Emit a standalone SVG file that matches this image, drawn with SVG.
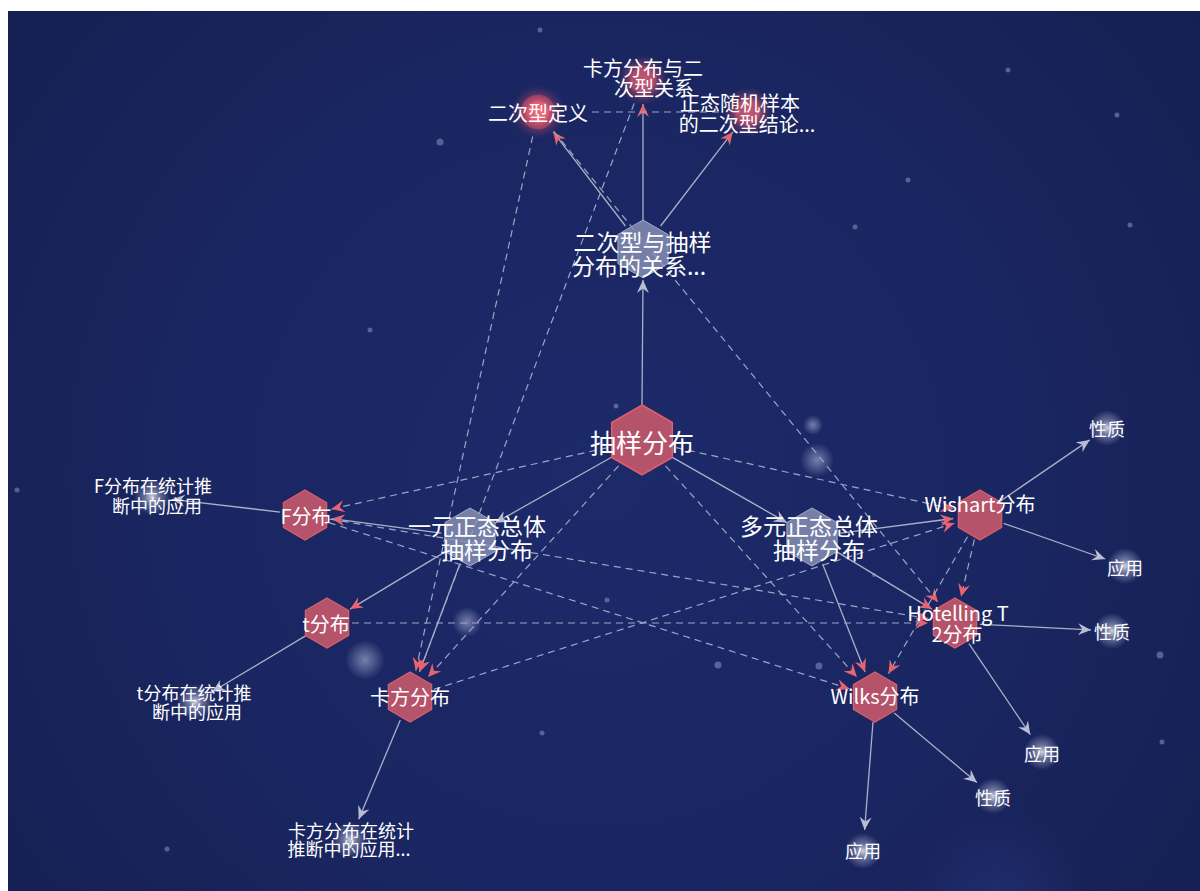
<svg xmlns="http://www.w3.org/2000/svg" width="1200" height="891" viewBox="0 0 1200 891">
<defs>
<style>
.t{fill:#ffffff;font-family:"Noto Sans CJK SC","Noto Sans",sans-serif;text-anchor:middle;dominant-baseline:central}
.s{stroke:#aab0c8;stroke-width:1.3;fill:none}
.d{stroke:#9ea5c6;stroke-width:1.2;fill:none;stroke-dasharray:7 5}
.hr{fill:#b5536b;stroke:#d9606f;stroke-width:1.2}
.hg{fill:#8d95b8;fill-opacity:0.8;stroke:#a3aac8;stroke-width:1}
.dot{fill:#8a93c0;fill-opacity:0.55}
</style>
<radialGradient id="bg" cx="600" cy="480" r="760" gradientUnits="userSpaceOnUse">
<stop offset="0" stop-color="#1d2a6a"/>
<stop offset="0.55" stop-color="#1a2661"/>
<stop offset="1" stop-color="#161f52"/>
</radialGradient>
<radialGradient id="leaf">
<stop offset="0" stop-color="#ffffff" stop-opacity="0.8"/>
<stop offset="0.4" stop-color="#c8cde6" stop-opacity="0.45"/>
<stop offset="1" stop-color="#c8cde6" stop-opacity="0"/>
</radialGradient>
<radialGradient id="glow">
<stop offset="0" stop-color="#c0c6e8" stop-opacity="0.55"/>
<stop offset="1" stop-color="#c0c6e8" stop-opacity="0"/>
</radialGradient>
<radialGradient id="rc">
<stop offset="0" stop-color="#f06a7a"/>
<stop offset="0.38" stop-color="#e05e72"/>
<stop offset="0.42" stop-color="#c4506c"/>
<stop offset="0.62" stop-color="#b04a68" stop-opacity="0.8"/>
<stop offset="0.66" stop-color="#8a3e66" stop-opacity="0.5"/>
<stop offset="1" stop-color="#6a3466" stop-opacity="0"/>
</radialGradient>
<radialGradient id="rc2">
<stop offset="0" stop-color="#c85a72"/>
<stop offset="0.45" stop-color="#b04e6c"/>
<stop offset="0.65" stop-color="#8a4068" stop-opacity="0.6"/>
<stop offset="1" stop-color="#6a3466" stop-opacity="0"/>
</radialGradient>
<radialGradient id="bottomglow" cx="1000" cy="900" r="90" gradientUnits="userSpaceOnUse">
<stop offset="0" stop-color="#3a4aa0" stop-opacity="0.25"/>
<stop offset="1" stop-color="#3a4aa0" stop-opacity="0"/>
</radialGradient>
<marker id="ar" viewBox="-13 -6.5 14 13" refX="0" refY="0" markerWidth="14" markerHeight="13" orient="auto" markerUnits="userSpaceOnUse">
<path d="M0,0 L-13,-6 L-8.5,0 L-13,6 Z" fill="#e8636f"/>
</marker>
<marker id="ag" viewBox="-13 -6.5 14 13" refX="0" refY="0" markerWidth="14" markerHeight="13" orient="auto" markerUnits="userSpaceOnUse">
<path d="M0,0 L-13,-6 L-8.5,0 L-13,6 Z" fill="#b9bed4"/>
</marker>
<polygon id="hexB" points="0,-35 30.31,-17.5 30.31,17.5 0,35 -30.31,17.5 -30.31,-17.5"/>
<polygon id="hexG" points="0,-29 25.11,-14.5 25.11,14.5 0,29 -25.11,14.5 -25.11,-14.5"/>
<polygon id="hexR" points="0,-25 21.65,-12.5 21.65,12.5 0,25 -21.65,12.5 -21.65,-12.5"/>
</defs>

<rect x="0" y="0" width="1200" height="891" fill="#ffffff"/>
<rect x="8" y="11" width="1192" height="880" fill="url(#bg)"/>
<rect x="900" y="800" width="200" height="91" fill="url(#bottomglow)"/>

<g id="stars">
<circle class="dot" cx="540" cy="30" r="2.5"/>
<circle class="dot" cx="1008" cy="70" r="2.5"/>
<circle class="dot" cx="1117" cy="115" r="2.5"/>
<circle class="dot" cx="440" cy="142" r="3.5"/>
<circle class="dot" cx="908" cy="180" r="2.5"/>
<circle class="dot" cx="1130" cy="225" r="2.5"/>
<circle class="dot" cx="855" cy="227" r="2.5"/>
<circle class="dot" cx="370" cy="330" r="2.5"/>
<circle class="dot" cx="17" cy="490" r="2.5"/>
<circle class="dot" cx="607" cy="600" r="2.5"/>
<circle class="dot" cx="718" cy="665" r="3.5"/>
<circle class="dot" cx="1160" cy="655" r="3.5"/>
<circle class="dot" cx="1162" cy="742" r="2.5"/>
<circle class="dot" cx="542" cy="733" r="2.5"/>
<circle class="dot" cx="167" cy="849" r="2.5"/>
<circle class="dot" cx="616" cy="406" r="2.5"/>
<circle class="dot" cx="819" cy="666" r="3.5"/>
<circle class="dot" cx="874" cy="575" r="2"/>
<circle cx="365" cy="660" r="20" fill="url(#glow)"/>
<circle cx="467" cy="622" r="15" fill="url(#glow)"/>
<circle cx="817" cy="460" r="17" fill="url(#glow)"/>
<circle cx="813" cy="425" r="10" fill="url(#glow)"/>
</g>

<g id="connectors">
<line class="s" x1="642" y1="405" x2="643" y2="280" marker-end="url(#ag)"/>
<line class="s" x1="643" y1="220" x2="643" y2="104" marker-end="url(#ar)"/>
<line class="s" x1="625.4" y1="226" x2="553.2" y2="131.9" marker-end="url(#ar)"/>
<line class="s" x1="660.6" y1="226" x2="732.8" y2="131.9" marker-end="url(#ar)"/>
<line class="s" x1="611.5" y1="457.2" x2="495.3" y2="522.8" marker-end="url(#ag)"/>
<line class="s" x1="672.4" y1="457.4" x2="786.8" y2="522.6" marker-end="url(#ag)"/>
<line class="s" x1="441.3" y1="533.2" x2="331.8" y2="518.6" marker-end="url(#ar)"/>
<line class="s" x1="445.1" y1="551.9" x2="350.1" y2="609.1" marker-end="url(#ar)"/>
<line class="s" x1="459.8" y1="564.1" x2="419.5" y2="671.7" marker-end="url(#ar)"/>
<line class="s" x1="840.8" y1="533.2" x2="953.2" y2="518.5" marker-end="url(#ar)"/>
<line class="s" x1="836.9" y1="551.9" x2="931.9" y2="609.1" marker-end="url(#ar)"/>
<line class="s" x1="822.6" y1="564" x2="865.1" y2="671.9" marker-end="url(#ar)"/>
<line class="s" x1="280.2" y1="512.1" x2="171.9" y2="499.3" marker-end="url(#ag)"/>
<line class="s" x1="305.5" y1="635.9" x2="212.2" y2="691.7" marker-end="url(#ag)"/>
<line class="s" x1="400.3" y1="720" x2="358.7" y2="819.2" marker-end="url(#ag)"/>
<line class="s" x1="1000.6" y1="500.9" x2="1089.7" y2="439.9" marker-end="url(#ag)"/>
<line class="s" x1="1003.6" y1="523.3" x2="1105.2" y2="559" marker-end="url(#ag)"/>
<line class="s" x1="980" y1="624.3" x2="1091" y2="629.9" marker-end="url(#ag)"/>
<line class="s" x1="969" y1="643.7" x2="1030.3" y2="734.6" marker-end="url(#ag)"/>
<line class="s" x1="894.2" y1="713.1" x2="976.9" y2="782.5" marker-end="url(#ag)"/>
<line class="s" x1="873" y1="722" x2="864.6" y2="830" marker-end="url(#ag)"/>

<line class="d" x1="592" y1="112" x2="723" y2="112"/>
<line class="d" x1="532.7" y1="136.4" x2="415.8" y2="670.6" marker-end="url(#ar)"/>
<line class="d" x1="634.2" y1="103.4" x2="419.5" y2="671.7" marker-end="url(#ar)"/>
<line class="d" x1="553.8" y1="131.4" x2="937.9" y2="602.1" marker-end="url(#ar)"/>
<line class="d" x1="607.8" y1="447.6" x2="331.4" y2="509.1" marker-end="url(#ar)"/>
<line class="d" x1="676.2" y1="447.6" x2="953.6" y2="509.1" marker-end="url(#ar)"/>
<line class="d" x1="618.5" y1="466" x2="428.1" y2="677" marker-end="url(#ar)"/>
<line class="d" x1="665.5" y1="465.9" x2="856.9" y2="677" marker-end="url(#ar)"/>
<line class="d" x1="328.8" y1="522.6" x2="849.3" y2="688.8" marker-end="url(#ar)"/>
<line class="d" x1="329.7" y1="519.1" x2="928.4" y2="618.6" marker-end="url(#ar)"/>
<line class="d" x1="352" y1="623" x2="928" y2="623" marker-end="url(#ar)"/>
<line class="d" x1="433.8" y1="689.4" x2="954.3" y2="523.2" marker-end="url(#ar)"/>
<line class="d" x1="974.4" y1="539.4" x2="961.1" y2="596.7" marker-end="url(#ar)"/>
<line class="d" x1="967.5" y1="536.7" x2="888.5" y2="673.6" marker-end="url(#ar)"/>
</g>

<g id="n-chouyang">
<use href="#hexB" x="642" y="440" class="hr" style="stroke:#e25e6c;stroke-width:1.5"/>
<text class="t" x="642" y="441" font-size="26">抽样分布</text>
</g>
<g id="n-erci-guanxi">
<use href="#hexG" x="643" y="249" class="hg"/>
<text class="t" x="642.5" y="241" font-size="23">二次型与抽样</text>
<text class="t" x="639" y="265" font-size="23">分布的关系...</text>
</g>
<g id="n-erci-dingyi">
<circle cx="538" cy="112" r="27" fill="url(#rc)"/>
<text class="t" x="538" y="112" font-size="20">二次型定义</text>
</g>
<g id="n-kafang-erci">
<circle cx="643" cy="80" r="25" fill="url(#rc2)"/>
<text class="t" x="643" y="67" font-size="20">卡方分布与二</text>
<text class="t" x="654" y="87" font-size="20">次型关系</text>
</g>
<g id="n-zhengtai">
<circle cx="748" cy="112" r="25" fill="url(#rc2)"/>
<text class="t" x="740" y="102" font-size="20">正态随机样本</text>
<text class="t" x="747" y="123" font-size="20">的二次型结论...</text>
</g>
<g id="n-yiyuan">
<use href="#hexG" x="470" y="537" class="hg"/>
<text class="t" x="477" y="525" font-size="23">一元正态总体</text>
<text class="t" x="487" y="549" font-size="23">抽样分布</text>
</g>
<g id="n-duoyuan">
<use href="#hexG" x="812" y="537" class="hg"/>
<text class="t" x="809" y="525" font-size="23">多元正态总体</text>
<text class="t" x="819" y="549" font-size="23">抽样分布</text>
</g>
<g id="n-F">
<use href="#hexR" x="305" y="515" class="hr"/>
<text class="t" x="306" y="515" font-size="20">F分布</text>
</g>
<g id="n-t">
<use href="#hexR" x="327" y="623" class="hr"/>
<text class="t" x="326" y="623" font-size="20">t分布</text>
</g>
<g id="n-kafang">
<use href="#hexR" x="410" y="697" class="hr"/>
<text class="t" x="410" y="696" font-size="20">卡方分布</text>
</g>
<g id="n-wishart">
<use href="#hexR" x="980" y="515" class="hr"/>
<text class="t" x="980" y="503" font-size="20">Wishart分布</text>
</g>
<g id="n-hotelling">
<use href="#hexR" x="955" y="623" class="hr"/>
<text class="t" x="958" y="612" font-size="20">Hotelling T</text>
<text class="t" x="957" y="633" font-size="20">2分布</text>
</g>
<g id="n-wilks">
<use href="#hexR" x="875" y="697" class="hr"/>
<text class="t" x="875" y="695" font-size="20">Wilks分布</text>
</g>
<g id="n-F-app">
<circle cx="152" cy="497" r="18" fill="url(#leaf)"/>
<text class="t" x="153" y="485" font-size="18">F分布在统计推</text>
<text class="t" x="157" y="505" font-size="18">断中的应用</text>
</g>
<g id="n-t-app">
<circle cx="195" cy="702" r="18" fill="url(#leaf)"/>
<text class="t" x="194" y="692" font-size="18">t分布在统计推</text>
<text class="t" x="197" y="711" font-size="18">断中的应用</text>
</g>
<g id="n-kafang-app">
<circle cx="350" cy="840" r="18" fill="url(#leaf)"/>
<text class="t" x="351" y="830" font-size="18">卡方分布在统计</text>
<text class="t" x="349" y="848" font-size="18">推断中的应用...</text>
</g>
<g id="n-w-xingzhi">
<circle cx="1107" cy="428" r="18" fill="url(#leaf)"/>
<text class="t" x="1107" y="428" font-size="18">性质</text>
</g>
<g id="n-w-yingyong">
<circle cx="1125" cy="566" r="18" fill="url(#leaf)"/>
<text class="t" x="1125" y="567" font-size="18">应用</text>
</g>
<g id="n-h-xingzhi">
<circle cx="1112" cy="631" r="18" fill="url(#leaf)"/>
<text class="t" x="1112" y="631" font-size="18">性质</text>
</g>
<g id="n-h-yingyong">
<circle cx="1042" cy="752" r="18" fill="url(#leaf)"/>
<text class="t" x="1042" y="753" font-size="18">应用</text>
</g>
<g id="n-wi-xingzhi">
<circle cx="993" cy="796" r="18" fill="url(#leaf)"/>
<text class="t" x="993" y="797" font-size="18">性质</text>
</g>
<g id="n-wi-yingyong">
<circle cx="863" cy="851" r="18" fill="url(#leaf)"/>
<text class="t" x="863" y="850" font-size="18">应用</text>
</g>
</svg>
